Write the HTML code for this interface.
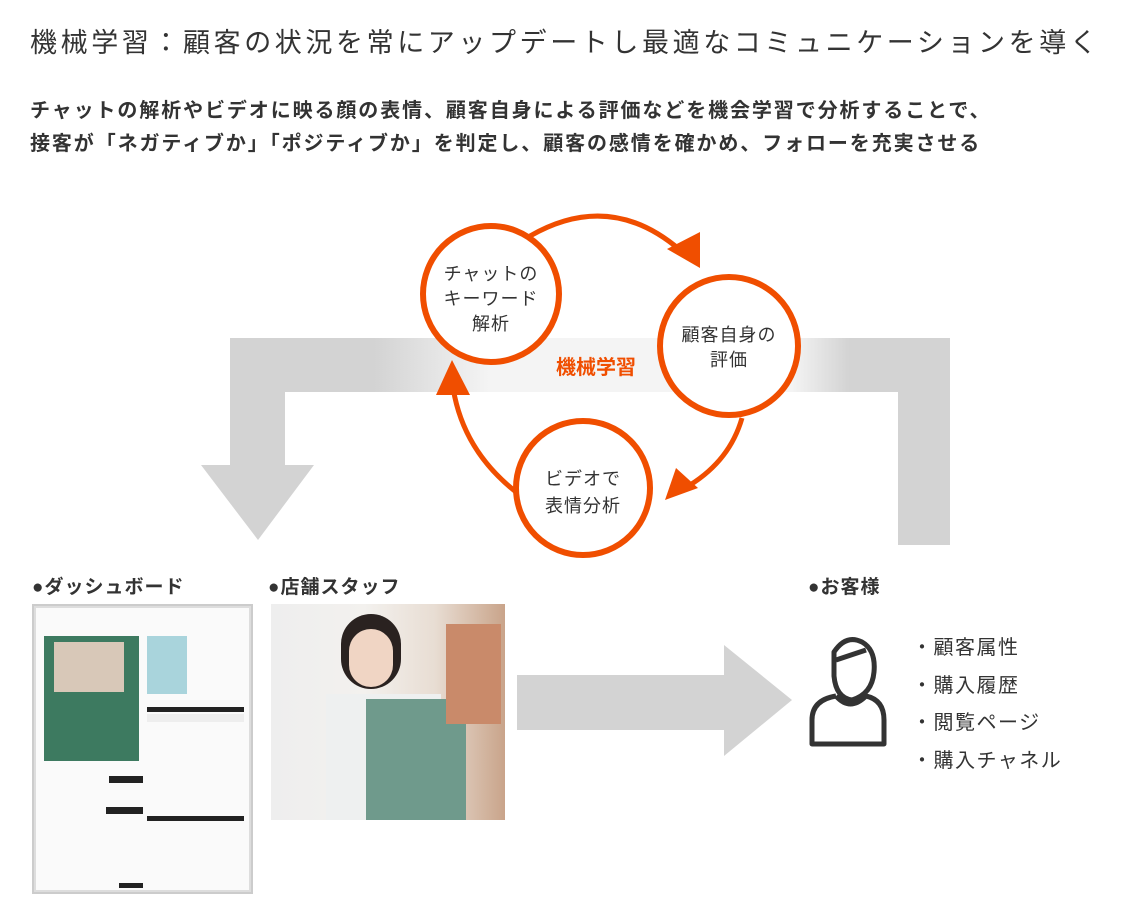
<!DOCTYPE html>
<html><head><meta charset="utf-8"><style>
*{margin:0;padding:0;box-sizing:border-box}
body{width:1129px;height:920px;background:#fff;position:relative;overflow:hidden;font-family:"Liberation Sans","Noto Sans CJK JP",sans-serif;color:#333}
.a{position:absolute;white-space:nowrap}
</style></head><body>
<div class="a" style="left:30px;top:21px;font-size:27px;color:#333;letter-spacing:3.6px">機械学習：顧客の状況を常にアップデートし最適なコミュニケーションを導く</div>
<div class="a" style="left:30px;top:95px;font-size:20px;font-weight:bold;line-height:33px;color:#333;letter-spacing:1.9px">チャットの解析やビデオに映る顔の表情、顧客自身による評価などを機会学習で分析することで、<br>接客が「ネガティブか」「ポジティブか」を判定し、顧客の感情を確かめ、フォローを充実させる</div>

<svg class="a" style="left:0;top:0" width="1129" height="920">
<defs>
<linearGradient id="g" x1="0" x2="1">
<stop offset="0" stop-color="#d3d3d3"/><stop offset="0.2" stop-color="#d3d3d3"/><stop offset="0.36" stop-color="#f4f4f4"/><stop offset="0.78" stop-color="#f4f4f4"/><stop offset="0.86" stop-color="#d3d3d3"/><stop offset="1" stop-color="#d3d3d3"/>
</linearGradient>
</defs>
<rect x="230" y="338" width="720" height="54" fill="url(#g)"/>
<rect x="230" y="338" width="55" height="130" fill="#d3d3d3"/>
<polygon points="201,465 314,465 258,540" fill="#d3d3d3"/>
<rect x="898" y="338" width="52" height="207" fill="#d3d3d3"/>
<text x="596" y="374" font-size="20" fill="#f04e00" text-anchor="middle" font-weight="bold" font-family="Liberation Sans,Noto Sans CJK JP,sans-serif">機械学習</text>
<g fill="none" stroke="#f04e00" stroke-width="5">
<path d="M530 236 Q610 190 680 250"/>
<path d="M742 418 Q730 460 690 485"/>
<path d="M520 495 Q460 450 452 380"/>
</g>
<g fill="#f04e00">
<polygon points="667,249 700,232 700,268"/>
<polygon points="665,500 676,468 698,488"/>
<polygon points="452,360 436,395 470,395"/>
</g>
<g fill="#fff" stroke="#f04e00" stroke-width="6">
<ellipse cx="491" cy="294" rx="68" ry="68"/>
<ellipse cx="729" cy="346" rx="69" ry="69"/>
<ellipse cx="583" cy="488" rx="67" ry="67"/>
</g>
<g font-size="18" fill="#333" text-anchor="middle" font-family="Liberation Sans,Noto Sans CJK JP,sans-serif" letter-spacing="1">
<text x="491" y="280">チャットの</text><text x="491" y="305">キーワード</text><text x="491" y="330">解析</text>
<text x="729" y="341">顧客自身の</text><text x="729" y="366">評価</text>
<text x="583" y="485">ビデオで</text><text x="583" y="512">表情分析</text>
</g>
<rect x="517" y="675" width="210" height="55" fill="#d3d3d3"/>
<polygon points="724,645 724,756 792,700" fill="#d3d3d3"/>
<g fill="none" stroke="#333" stroke-width="5" stroke-linejoin="round">
<path d="M834 652 Q846 634 862 642 Q876 650 874 672 Q872 694 852 700 Q836 698 834 676 Z"/>
<path d="M836 660 L866 650"/>
<path d="M836 696 Q812 700 812 720 L812 744 L884 744 L884 720 Q884 700 866 696 Q850 712 836 696"/>
</g>
</svg>

<div class="a" style="left:32px;top:572px;font-size:19px;font-weight:bold;letter-spacing:1px">●ダッシュボード</div>
<div class="a" style="left:268px;top:572px;font-size:19px;font-weight:bold;letter-spacing:1px">●店舗スタッフ</div>
<div class="a" style="left:808px;top:572px;font-size:19px;font-weight:bold;letter-spacing:1px">●お客様</div>
<div class="a" style="left:912px;top:630px;font-size:20px;line-height:37.5px;letter-spacing:1.5px">・顧客属性<br>・購入履歴<br>・閲覧ページ<br>・購入チャネル</div>

<div class="a" style="left:32px;top:604px;width:221px;height:290px;background:#ddd;border:2px solid #ccc">
<div style="position:absolute;left:2px;top:2px;width:213px;height:282px;background:#fafafa"></div>
<div style="position:absolute;left:10px;top:30px;width:95px;height:125px;background:#3d7a60"></div>
<div style="position:absolute;left:20px;top:36px;width:70px;height:50px;background:#d8c8b8"></div>
<div style="position:absolute;left:113px;top:30px;width:40px;height:58px;background:#a9d4dc"></div>
<div style="position:absolute;left:113px;top:101px;width:97px;height:5px;background:#222"></div>
<div style="position:absolute;left:113px;top:108px;width:97px;height:8px;background:#eee"></div>
<div style="position:absolute;left:75px;top:170px;width:34px;height:7px;background:#222"></div>
<div style="position:absolute;left:72px;top:201px;width:37px;height:7px;background:#222"></div>
<div style="position:absolute;left:113px;top:210px;width:97px;height:5px;background:#222"></div>
<div style="position:absolute;left:85px;top:277px;width:24px;height:5px;background:#222"></div>
</div>
<div class="a" style="left:271px;top:604px;width:234px;height:216px;background:linear-gradient(90deg,#eee 0%,#f3f1ee 40%,#e8ddd3 70%,#c9a48a 100%)">
<div style="position:absolute;left:70px;top:10px;width:60px;height:75px;border-radius:30px;background:#2a2220"></div>
<div style="position:absolute;left:78px;top:25px;width:44px;height:58px;border-radius:22px;background:#f0d5c4"></div>
<div style="position:absolute;left:55px;top:90px;width:115px;height:126px;background:#eef0f0"></div>
<div style="position:absolute;left:95px;top:95px;width:100px;height:121px;background:#6f9a8c"></div>
<div style="position:absolute;left:175px;top:20px;width:55px;height:100px;background:#c98a6a"></div>
</div>
</body></html>
